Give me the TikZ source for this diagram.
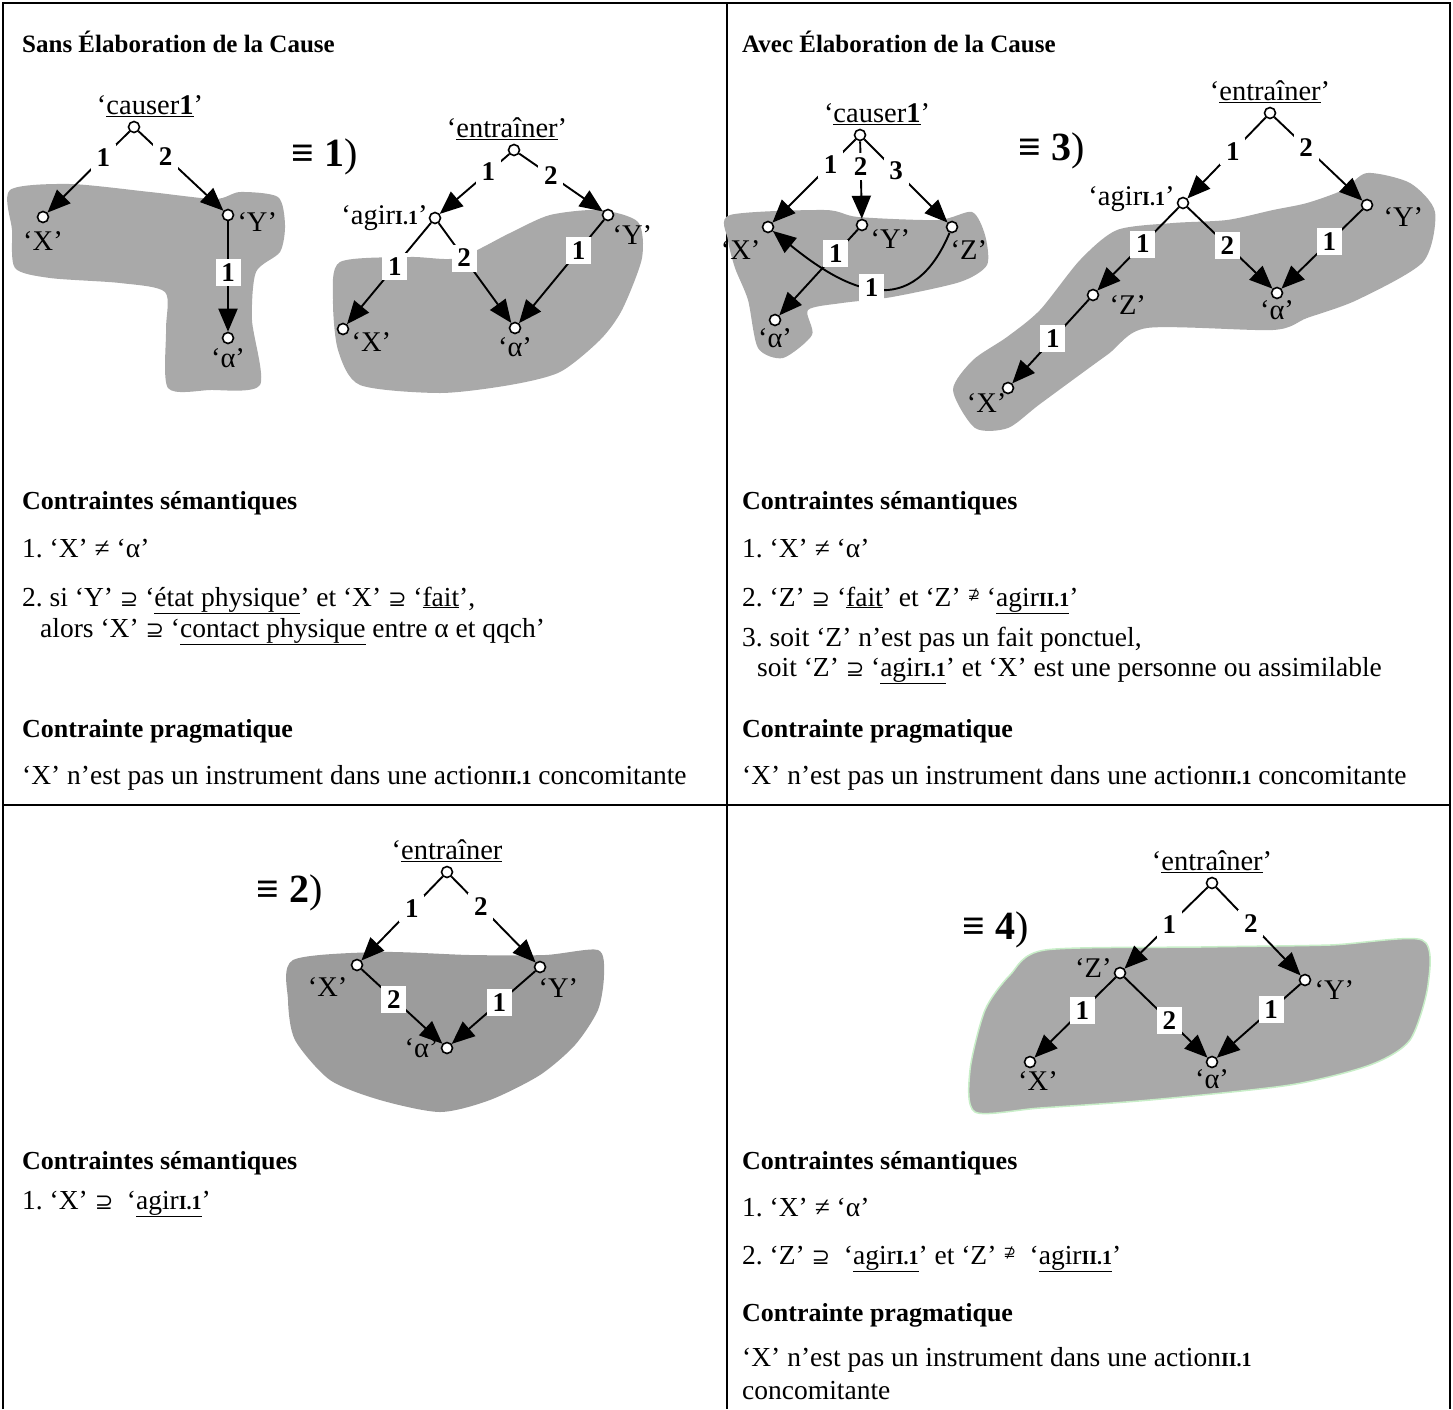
\documentclass[tikz,border=0pt]{standalone}
\usepackage{fontspec}
\setmainfont{Liberation Serif}
\newfontfamily\symbfont{DejaVu Sans}
\usepackage{tikz}
\usetikzlibrary{positioning,arrows.meta}
\definecolor{cBlob}{HTML}{A9A9A9}
\definecolor{cBlobDark}{HTML}{9C9C9C}
\definecolor{cRim}{HTML}{C8EEC8}
\frenchspacing
\newcommand{\lexnum}[1]{{\fontsize{20}{22}\selectfont\bfseries #1}}
\newcommand{\supq}{{\symbfont\fontsize{22}{22}\selectfont ⊇}}
\newcommand{\nsupq}{\raisebox{7pt}{\symbfont\fontsize{15}{15}\selectfont ⊉}}
\tikzset{
  node-sem/.style={draw,circle,line width=1.6pt,fill=white,minimum size=11pt,inner sep=0pt},
  node-lbl/.style={inner sep=0pt,font=\fontsize{28.5}{30}\selectfont},
  node-num/.style={fill=white,inner sep=0pt,minimum width=25pt,minimum height=27pt,
    font=\fontsize{27}{29}\selectfont\bfseries},
  node-eq/.style={inner sep=0pt,font=\fontsize{40}{42}\selectfont},
  node-title/.style={anchor=base west,inner sep=0pt,font=\fontsize{25}{28}\selectfont\bfseries},
  node-head/.style={anchor=base west,inner sep=0pt,font=\fontsize{26}{30}\selectfont\bfseries},
  node-txt/.style={anchor=base west,inner sep=0pt,font=\fontsize{27.5}{30}\selectfont},
  arrow/.style={-{Triangle[length=23pt,width=19pt]},line width=1.9pt},
  blob/.style={fill=cBlob,draw=none},
  table-rule/.style={line width=2.5pt},
}

\begin{document}
\begin{tikzpicture}[x=1pt,y=-1pt]
  \useasboundingbox (0,0) rectangle (1453,1409);
  % cadre du tableau
  \draw[table-rule] (3,1409) -- (3,3) -- (1450,3) -- (1450,1409);
  \draw[table-rule] (727,3) -- (727,1409);
  \draw[table-rule] (3,805) -- (1450,805);

  % zones grises
  \fill[blob] plot[smooth cycle,tension=.45] coordinates {(10,190) (70,184) (150,192)
    (215,199) (240,192) (278,197) (285,225) (280,252) (256,272) (252,320) (260,385)
    (210,390) (168,388) (166,330) (165,292) (120,283) (50,278) (15,268) (12,230)};
  \fill[blob] plot[smooth cycle,tension=.45] coordinates {(340,262) (410,257) (458,258)
    (510,233) (550,215) (600,210) (638,222) (642,258) (622,310) (600,340) (560,372)
    (510,385) (440,393) (360,385) (338,350) (333,300)};
  \fill[blob] plot[smooth cycle,tension=.45] coordinates {(730,215) (825,210) (858,217)
    (938,220) (972,212) (985,235) (987,265) (960,282) (892,297) (842,303) (808,310)
    (812,335) (783,358) (758,348) (748,300) (735,268) (728,240)};
  \fill[blob] plot[smooth cycle,tension=.45] coordinates {(953,390) (975,428) (1008,428)
    (1040,404) (1107,355) (1147,328) (1273,330) (1307,318) (1357,300) (1423,262)
    (1435,212) (1410,183) (1367,173) (1343,190) (1307,203) (1273,210) (1227,220)
    (1173,223) (1117,230) (1080,260) (1040,310) (1007,337) (973,360)};
  \fill[blob,fill=cBlobDark] plot[smooth cycle,tension=.45] coordinates {(293,960)
    (380,952) (470,955) (545,955) (598,950) (604,975) (598,1010) (575,1045) (540,1075)
    (490,1100) (440,1112) (380,1100) (330,1080) (295,1040) (288,1000)};
  \filldraw[blob,draw=cRim,line width=1.5pt] plot[smooth cycle,tension=.45] coordinates {
    (1045,950) (1200,947) (1330,945) (1422,940) (1428,985) (1410,1040) (1370,1065)
    (1290,1085) (1150,1100) (1040,1108) (975,1112) (970,1070) (985,1010) (1010,975)};

  % Sans elaboration
  \node[node-title] (t1) at (22,52) {Sans Élaboration de la Cause};
  \node[node-sem] (r1) at (134,127) {};
  \node[node-lbl,above=4pt of r1,xshift=16pt] (r1-l) {‘\underline{causer\textbf{1}}’};
  \node[node-sem] (x1) at (43,217) {};
  \node[node-lbl,below=8pt of x1] (x1-l) {‘X’};
  \node[node-sem] (y1) at (228,215) {};
  \node[node-lbl,right=3pt of y1,yshift=-7pt] (y1-l) {‘Y’};
  \node[node-sem] (a1) at (228,338) {};
  \node[node-lbl,below=4pt of a1] (a1-l) {‘α’};
  \draw[arrow] (r1) -- node[node-num,pos=.32]{1} (x1);
  \draw[arrow] (r1) -- node[node-num,pos=.32]{2} (y1);
  \draw[arrow] (y1) -- node[node-num,pos=.46]{1} (a1);

  \node[node-eq] (eq1) at (325,157) {\textbf{≡ 1})};

  \node[node-sem] (r2) at (514,150) {};
  \node[node-lbl,above=4pt of r2,xshift=-7pt] (r2-l) {‘\underline{entraîner}’};
  \node[node-sem] (g2) at (435,218) {};
  \node[node-lbl,left=1pt of g2] (g2-l) {‘agir\lexnum{I.1}’};
  \node[node-sem] (y2) at (608,215) {};
  \node[node-lbl,below right=6pt and 0pt of y2] (y2-l) {‘Y’};
  \node[node-sem] (x2) at (343,329) {};
  \node[node-lbl,below right=-1pt and 4pt of x2] (x2-l) {‘X’};
  \node[node-sem] (a2) at (515,328) {};
  \node[node-lbl,below=3pt of a2] (a2-l) {‘α’};
  \draw[arrow] (r2) -- node[node-num,pos=.3]{1} (g2);
  \draw[arrow] (r2) -- node[node-num,pos=.38]{2} (y2);
  \draw[arrow] (g2) -- node[node-num,pos=.43]{1} (x2);
  \draw[arrow] (g2) -- node[node-num,pos=.35]{2} (a2);
  \draw[arrow] (y2) -- node[node-num,pos=.3]{1} (a2);

  \node[node-head] (h1) at (22,509) {Contraintes sémantiques};
  \node[node-txt] (c1a) at (22,557) {1. ‘X’ ≠ ‘α’};
  \node[node-txt] (c1b) at (22,606) {2. si ‘Y’ \supq{} ‘\underline{état physique}’ et ‘X’ \supq{} ‘\underline{fait}’,};
  \node[node-txt] (c1c) at (40,637) {alors ‘X’ \supq{} ‘\underline{contact physique} entre α et qqch’};
  \node[node-head] (p1) at (22,737) {Contrainte pragmatique};
  \node[node-txt] (p1a) at (22,784) {‘X’ n’est pas un instrument dans une action\lexnum{II.1} concomitante};

  % Avec elaboration
  \node[node-title] (t2) at (742,52) {Avec Élaboration de la Cause};
  \node[node-sem] (r3) at (860,135) {};
  \node[node-lbl,above=4pt of r3,xshift=17pt] (r3-l) {‘\underline{causer\textbf{1}}’};
  \node[node-sem] (x3) at (768,227) {};
  \node[node-lbl,below left=9pt and 3pt of x3] (x3-l) {‘X’};
  \node[node-sem] (y3) at (862,225) {};
  \node[node-lbl,right=2pt of y3,yshift=-14pt] (y3-l) {‘Y’};
  \node[node-sem] (z3) at (952,227) {};
  \node[node-lbl,below right=9pt and -6pt of z3] (z3-l) {‘Z’};
  \node[node-sem] (a3) at (775,320) {};
  \node[node-lbl,below=2pt of a3] (a3-l) {‘α’};
  \draw[arrow] (r3) -- node[node-num,pos=.3]{1} (x3);
  \draw[arrow] (r3) -- node[node-num,pos=.33]{2} (y3);
  \draw[arrow] (r3) -- node[node-num,pos=.38]{3} (z3);
  \draw[arrow] (z3) .. controls +(-40,95) and +(80,65) .. node[node-num,pos=.52]{1} (x3);
  \draw[arrow] (y3) -- node[node-num,pos=.28]{1} (a3);

  \node[node-eq] (eq3) at (1052,151) {\textbf{≡ 3})};

  \node[node-sem] (r4) at (1270,113) {};
  \node[node-lbl,above=4pt of r4] (r4-l) {‘\underline{entraîner}’};
  \node[node-sem] (g4) at (1183,203) {};
  \node[node-lbl,left=2pt of g4,yshift=4pt] (g4-l) {‘agir\lexnum{I.1}’};
  \node[node-sem] (y4) at (1367,205) {};
  \node[node-lbl,right=10pt of y4,yshift=-12pt] (y4-l) {‘Y’};
  \node[node-sem] (z4) at (1093,295) {};
  \node[node-lbl,right=10pt of z4,yshift=-10pt] (z4-l) {‘Z’};
  \node[node-sem] (a4) at (1277,293) {};
  \node[node-lbl,below=1pt of a4] (a4-l) {‘α’};
  \node[node-sem] (x4) at (1008,388) {};
  \node[node-lbl,below left=1pt and -3pt of x4] (x4-l) {‘X’};
  \draw[arrow] (r4) -- node[node-num,pos=.42]{1} (g4);
  \draw[arrow] (r4) -- node[node-num,pos=.36]{2} (y4);
  \draw[arrow] (g4) -- node[node-num,pos=.44]{1} (z4);
  \draw[arrow] (g4) -- node[node-num,pos=.47]{2} (a4);
  \draw[arrow] (y4) -- node[node-num,pos=.41]{1} (a4);
  \draw[arrow] (z4) -- node[node-num,pos=.47]{1} (x4);

  \node[node-head] (h2) at (742,509) {Contraintes sémantiques};
  \node[node-txt] (c2a) at (742,557) {1. ‘X’ ≠ ‘α’};
  \node[node-txt] (c2b) at (742,606) {2. ‘Z’ \supq{} ‘\underline{fait}’ et ‘Z’ \nsupq{} ‘\underline{agir\lexnum{II.1}}’};
  \node[node-txt] (c2c) at (742,646) {3. soit ‘Z’ n’est pas un fait ponctuel,};
  \node[node-txt] (c2d) at (757,676) {soit ‘Z’ \supq{} ‘\underline{agir\lexnum{I.1}}’ et ‘X’ est une personne ou assimilable};
  \node[node-head] (p2) at (742,737) {Contrainte pragmatique};
  \node[node-txt] (p2a) at (742,784) {‘X’ n’est pas un instrument dans une action\lexnum{II.1} concomitante};

  % ligne du bas, gauche
  \node[node-eq] (eq2) at (290,893) {\textbf{≡ 2})};
  \node[node-sem] (r5) at (447,872) {};
  \node[node-lbl,above=4pt of r5] (r5-l) {‘\underline{entraîner}};
  \node[node-sem] (x5) at (357,965) {};
  \node[node-lbl,below left=8pt and 5pt of x5] (x5-l) {‘X’};
  \node[node-sem] (y5) at (540,967) {};
  \node[node-lbl,below right=7pt and -6pt of y5] (y5-l) {‘Y’};
  \node[node-sem] (a5) at (447,1048) {};
  \node[node-lbl,left=2pt of a5] (a5-l) {‘α’};
  \draw[arrow] (r5) -- node[node-num,pos=.38]{1} (x5);
  \draw[arrow] (r5) -- node[node-num,pos=.35]{2} (y5);
  \draw[arrow] (x5) -- node[node-num,pos=.4]{2} (a5);
  \draw[arrow] (y5) -- node[node-num,pos=.43]{1} (a5);

  \node[node-head] (h3) at (22,1169) {Contraintes sémantiques};
  \node[node-txt] (c3a) at (22,1209) {1. ‘X’ \supq{}~ ‘\underline{agir\lexnum{I.1}}’};

  % ligne du bas, droite
  \node[node-eq] (eq4) at (996,930) {\textbf{≡ 4})};
  \node[node-sem] (r6) at (1212,883) {};
  \node[node-lbl,above=4pt of r6] (r6-l) {‘\underline{entraîner}’};
  \node[node-sem] (z6) at (1120,973) {};
  \node[node-lbl,left=2pt of z6,yshift=5pt] (z6-l) {‘Z’};
  \node[node-sem] (y6) at (1305,980) {};
  \node[node-lbl,right=3pt of y6,yshift=-10pt] (y6-l) {‘Y’};
  \node[node-sem] (x6) at (1030,1062) {};
  \node[node-lbl,below=3pt of x6,xshift=8pt] (x6-l) {‘X’};
  \node[node-sem] (a6) at (1212,1062) {};
  \node[node-lbl,below=1pt of a6] (a6-l) {‘α’};
  \draw[arrow] (r6) -- node[node-num,pos=.46]{1} (z6);
  \draw[arrow] (r6) -- node[node-num,pos=.41]{2} (y6);
  \draw[arrow] (z6) -- node[node-num,pos=.41]{1} (x6);
  \draw[arrow] (z6) -- node[node-num,pos=.54]{2} (a6);
  \draw[arrow] (y6) -- node[node-num,pos=.35]{1} (a6);

  \node[node-head] (h4) at (742,1169) {Contraintes sémantiques};
  \node[node-txt] (c4a) at (742,1216) {1. ‘X’ ≠ ‘α’};
  \node[node-txt] (c4b) at (742,1264) {2. ‘Z’ \supq{}~ ‘\underline{agir\lexnum{I.1}}’ et ‘Z’ \nsupq{}~ ‘\underline{agir\lexnum{II.1}}’};
  \node[node-head] (p4) at (742,1321) {Contrainte pragmatique};
  \node[node-txt] (p4a) at (742,1366) {‘X’ n’est pas un instrument dans une action\lexnum{II.1}};
  \node[node-txt] (p4b) at (742,1399) {concomitante};
\end{tikzpicture}
\end{document}
